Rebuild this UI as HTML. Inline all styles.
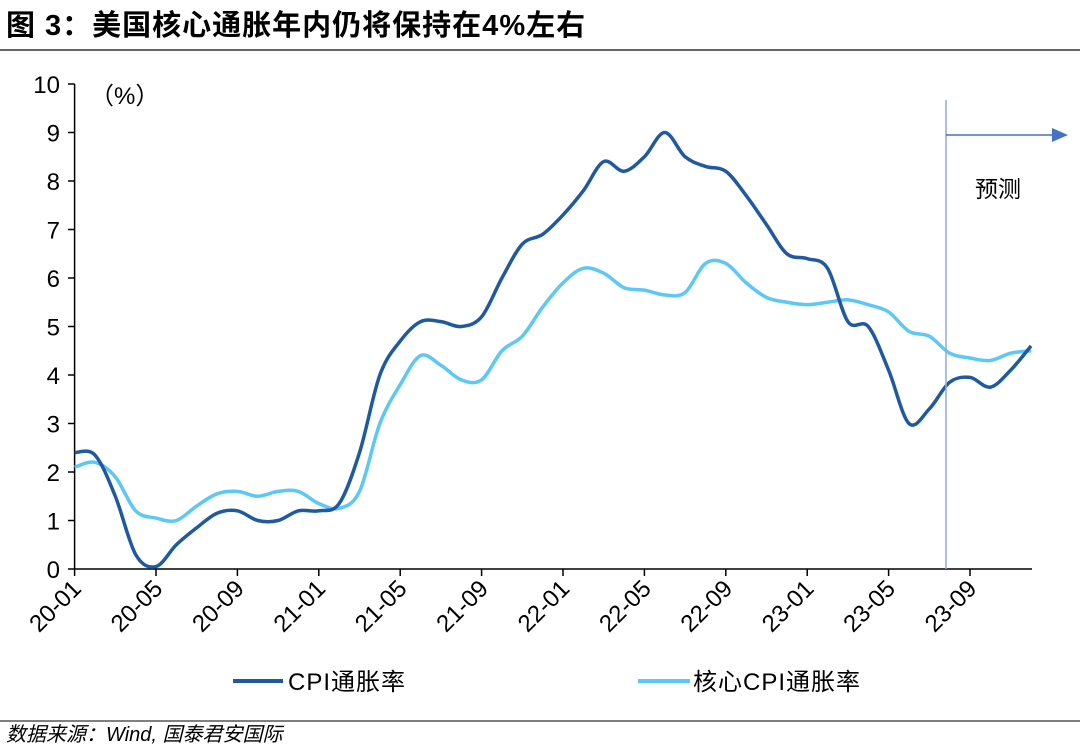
<!DOCTYPE html>
<html><head><meta charset="utf-8"><style>
body{margin:0;background:#fff;width:1080px;height:747px;overflow:hidden}
svg{font-family:"Liberation Sans","Noto Sans CJK SC",sans-serif}
</style></head><body>
<svg width="1080" height="747" viewBox="0 0 1080 747">
<text x="6" y="35" font-size="29" font-weight="bold" fill="#000" letter-spacing="1">图 3：美国核心通胀年内仍将保持在4%左右</text>
<line x1="0" y1="50" x2="1080" y2="50" stroke="#333" stroke-width="1.5"/>
<g id="axes"></g>
<g id="series"></g>
<text x="90" y="104" font-size="24" fill="#000">（%）</text>
<line x1="946" y1="100" x2="946" y2="569" stroke="#8eaadb" stroke-width="1.5"/>
<line x1="946" y1="135" x2="1058" y2="135" stroke="#4472c4" stroke-width="1.5"/>
<polygon points="1068,135 1052,128 1052,142" fill="#4472c4"/>
<text x="975" y="197" font-size="23" fill="#000">预测</text>
<line x1="233" y1="681" x2="283" y2="681" stroke="#1f5aa0" stroke-width="4"/>
<text x="288" y="690" font-size="24" fill="#000" letter-spacing="1">CPI通胀率</text>
<line x1="638" y1="681" x2="690" y2="681" stroke="#5bc8f5" stroke-width="4"/>
<text x="693" y="690" font-size="24" fill="#000" letter-spacing="1">核心CPI通胀率</text>
<line x1="0" y1="721" x2="1080" y2="721" stroke="#555" stroke-width="1.5"/>
<text x="6" y="741" font-size="20" font-style="italic" fill="#000">数据来源：Wind, 国泰君安国际</text>
</svg>
<script>
const months=[];for(let y=20;y<=23;y++)for(let m=1;m<=12;m++)months.push(y+'-'+String(m).padStart(2,'0'));
const tickLabels=['20-01','20-05','20-09','21-01','21-05','21-09','22-01','22-05','22-09','23-01','23-05','23-09'];
const yTicks=[0,1,2,3,4,5,6,7,8,9,10];
const cpi=[2.4,2.35,1.5,0.3,0.05,0.5,0.85,1.15,1.2,1.0,1.0,1.2,
1.2,1.35,2.4,4.0,4.7,5.1,5.1,5.0,5.2,6.0,6.7,6.9,
7.3,7.8,8.4,8.2,8.5,9.0,8.5,8.3,8.2,7.7,7.1,6.5,
6.4,6.2,5.1,5.0,4.1,3.0,3.3,3.85,3.95,3.75,4.1,4.6];
const core=[2.1,2.2,1.9,1.2,1.05,1.0,1.3,1.55,1.6,1.5,1.6,1.6,
1.35,1.25,1.6,3.0,3.8,4.4,4.2,3.9,3.9,4.5,4.8,5.4,
5.9,6.2,6.1,5.8,5.75,5.65,5.7,6.3,6.3,5.9,5.6,5.5,
5.45,5.5,5.55,5.45,5.3,4.9,4.8,4.45,4.35,4.3,4.45,4.5];
const NS='http://www.w3.org/2000/svg';
const X0=74.6,DX=20.35,Y0=569,DY=48.5;
const xs=i=>X0+DX*i, ys=v=>Y0-DY*v;
function mk(t,a,p){const e=document.createElementNS(NS,t);for(const k in a)e.setAttribute(k,a[k]);p.appendChild(e);return e;}
const ax=document.getElementById('axes');
let e=mk('line',{x1:74.6,y1:569,x2:1032,y2:569,stroke:'#000','stroke-width':1.5},ax);


e=mk('line',{x1:74.6,y1:84,x2:74.6,y2:569,stroke:'#000','stroke-width':1.5},ax);


yTicks.forEach(v=>{
 const t=mk('line',{x1:68,y1:ys(v),x2:74.6,y2:ys(v),stroke:'#000','stroke-width':1.5},ax);
 
 
 const l=mk('text',{x:60,y:ys(v)+9,'font-size':24,'text-anchor':'end'},ax);l.textContent=v;
 
 
});
tickLabels.forEach(lb=>{
 const i=months.indexOf(lb),x=xs(i);
 const t=mk('line',{x1:x,y1:569,x2:x,y2:576,stroke:'#000','stroke-width':1.5},ax);
 
 
 const l=mk('text',{x:x+8,y:590,'font-size':24,'text-anchor':'end',transform:`rotate(-45 ${x+8} 590)`},ax);l.textContent=lb;
 
 
});
function path(vals){const p=vals.map((v,i)=>[xs(i),ys(v)]);let d=`M${p[0][0]},${p[0][1]}`;
 for(let i=0;i<p.length-1;i++){const a=p[Math.max(0,i-1)],b=p[i],c=p[i+1],f=p[Math.min(p.length-1,i+2)];
 d+=` C${b[0]+(c[0]-a[0])/6},${b[1]+(c[1]-a[1])/6} ${c[0]-(f[0]-b[0])/6},${c[1]-(f[1]-b[1])/6} ${c[0]},${c[1]}`;}return d;}
const sg=document.getElementById('series');
e=mk('path',{d:path(core),fill:'none',stroke:'#5bc8f5','stroke-width':3.5},sg);


e=mk('path',{d:path(cpi),fill:'none',stroke:'#1f5aa0','stroke-width':3.5},sg);


</script>
</body></html>
